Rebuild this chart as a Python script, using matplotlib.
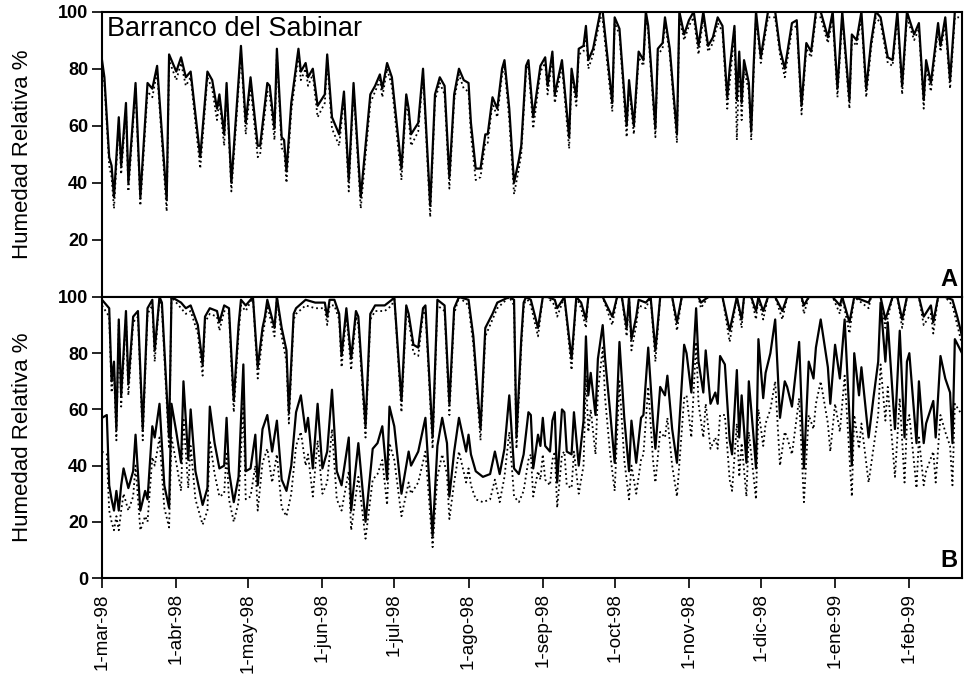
import matplotlib
matplotlib.use("Agg")
import matplotlib.pyplot as plt
import numpy as np

plt.rcParams['font.family'] = ['Liberation Sans', 'DejaVu Sans']

# dias contados desde el 1-mar-98
meses = [0, 31, 61, 92, 122, 153, 184, 214, 245, 275, 306, 337]
etiquetas = ["1-mar-98", "1-abr-98", "1-may-98", "1-jun-98", "1-jul-98", "1-ago-98",
             "1-sep-98", "1-oct-98", "1-nov-98", "1-dic-98", "1-ene-99", "1-feb-99"]

# --- A: Barranco del Sabinar ---
dias_a = [0, 1, 3, 4, 5, 7, 8, 10, 11, 14, 16, 19, 21, 23, 27, 28, 31, 33, 35, 37, 41, 44, 46, 48, 49,
          51, 52, 54, 56, 58, 60, 62, 65, 66, 69, 70, 72, 73, 75, 76, 77, 79, 82, 83, 85, 86, 88, 90,
          93, 94, 96, 99, 101, 103, 105, 108, 112, 114, 116, 117, 119, 121, 125, 127, 128, 129, 132,
          134, 137, 139, 141, 143, 145, 147, 149, 151, 153, 154, 156, 158, 160, 161, 163, 165, 167,
          168, 170, 172, 174, 175, 177, 178, 180, 183, 185, 186, 188, 189, 192, 195, 196, 198, 199,
          201, 202, 203, 205, 208, 209, 213, 214, 216, 219, 220, 222, 224, 226, 227, 228, 231, 232,
          234, 235, 237, 240, 241, 243, 245, 247, 249, 251, 253, 255, 257, 259, 261, 262, 264, 265,
          266, 267, 268, 270, 271, 272, 273, 275, 278, 281, 283, 285, 288, 290, 292, 294, 296, 298,
          300, 303, 305, 307, 309, 312, 313, 315, 317, 319, 321, 323, 325, 328, 330, 332, 334, 336,
          339, 341, 343, 344, 346, 349, 350, 352, 354, 356, 358]
hr_a = [83, 77, 49, 46, 35, 63, 46, 68, 40, 75, 35, 75, 73, 81, 34, 85, 79, 84, 77, 79, 49, 79, 76, 66, 71,
        57, 75, 40, 64, 88, 61, 77, 53, 53, 75, 74, 59, 87, 56, 55, 44, 68, 87, 79, 82, 77, 80, 67,
        71, 85, 63, 57, 72, 41, 75, 35, 71, 74, 78, 73, 82, 77, 45, 71, 66, 57, 61,
        80, 32, 71, 77, 74, 42, 71, 80, 76, 75, 61, 45, 45, 57, 57, 70, 66, 80,
        83, 66, 40, 48, 53, 81, 83, 63, 81, 84, 74, 86, 71, 83, 56, 80, 70, 87,
        88, 95, 83, 87, 100, 100, 68, 98, 94, 60, 76, 60, 86, 83, 100, 95, 59, 87,
        89, 98, 87, 57, 100, 92, 97, 100, 88, 100, 88, 91, 98, 95, 70, 80, 95, 69,
        86, 68, 83, 75, 58, 81, 100, 84, 100, 100, 87, 80, 96, 97, 67, 89, 86, 100,
        100, 91, 100, 73, 100, 69, 92, 90, 100, 73, 89, 100, 98, 84, 83, 100, 74, 100,
        92, 96, 69, 83, 75, 96, 88, 98, 76, 100, 100]
hr_a_pt = [81, 75, 46, 42, 31, 61, 43, 66, 37, 73, 32, 72, 70, 79, 30, 83, 76, 82, 74, 77, 45, 77, 73, 62, 69,
           53, 73, 37, 61, 86, 57, 74, 49, 50, 72, 71, 55, 85, 52, 52, 40, 65, 85, 76, 80, 74, 78, 63,
           68, 83, 59, 53, 70, 37, 73, 31, 68, 72, 76, 70, 80, 74, 41, 69, 63, 53, 58,
           78, 28, 69, 75, 71, 38, 69, 78, 73, 72, 57, 41, 42, 54, 54, 68, 63, 78,
           81, 62, 36, 45, 50, 79, 81, 59, 79, 82, 71, 84, 68, 81, 52, 78, 67, 85,
           86, 93, 80, 85, 98, 97, 65, 96, 92, 56, 74, 57, 84, 81, 98, 93, 56, 85,
           87, 96, 85, 54, 98, 90, 95, 98, 85, 98, 86, 89, 96, 93, 66, 75, 93, 55,
           83, 62, 80, 72, 55, 78, 98, 82, 98, 98, 85, 77, 94, 95, 64, 87, 84, 98,
           98, 89, 98, 70, 98, 66, 90, 88, 98, 70, 87, 98, 96, 82, 81, 98, 71, 98,
           90, 94, 66, 81, 72, 94, 86, 96, 73, 98, 98]

# --- B: maximas y minimas diarias ---
dias_bmax = [0, 3, 4, 5, 6, 7, 8, 10, 11, 13, 15, 17, 19, 21, 22, 24, 25, 28, 29, 33, 35, 37, 40, 42, 43,
             45, 48, 49, 51, 53, 55, 57, 58, 60, 63, 65, 67, 68, 69, 72, 73, 75, 77, 78, 80, 81, 85, 89,
             93, 94, 95, 97, 99, 100, 102, 104, 106, 107, 110, 112, 114, 118, 121, 122, 125, 127, 128,
             130, 132, 134, 135, 138, 140, 143, 145, 147, 149, 153, 155, 158, 160, 163, 165, 170, 172,
             173, 175, 176, 177, 179, 182, 184, 186, 189, 190, 193, 196, 198, 200, 202, 203, 206, 209,
             213, 215, 217, 219, 220, 221, 223, 224, 227, 229, 231, 233, 238, 240, 242, 245, 249, 250,
             253, 259, 262, 265, 267, 268, 271, 273, 274, 276, 278, 281, 284, 286, 292, 293, 295, 298,
             305, 308, 309, 312, 314, 320, 321, 325, 327, 330, 332, 334, 336, 341, 343, 346, 347, 349,
             352, 355, 357, 359]
hr_bmax = [99, 96, 70, 77, 53, 92, 65, 95, 69, 93, 95, 53, 96, 99, 81, 100, 98, 50, 100, 98, 96, 97, 90, 76, 93,
           96, 95, 91, 97, 96, 63, 90, 99, 97, 100, 75, 89, 93, 99, 89, 100, 89, 81, 59, 94, 96, 99, 98,
           98, 93, 99, 99, 94, 79, 96, 78, 95, 93, 54, 94, 97, 97, 99, 100, 63, 97, 94,
           83, 82, 96, 97, 50, 99, 97, 62, 96, 100, 99, 86, 53, 89, 94, 98, 100, 99,
           50, 85, 98, 100, 99, 89, 100, 100, 99, 96, 100, 78, 100, 98, 92, 100, 100, 100,
           93, 100, 100, 89, 100, 85, 93, 99, 98, 100, 81, 100, 100, 91, 100, 100, 100, 98,
           100, 100, 88, 100, 92, 100, 100, 95, 100, 95, 100, 100, 95, 100, 100, 97, 100, 100,
           100, 97, 100, 91, 100, 98, 100, 100, 92, 100, 100, 92, 100, 100, 93, 97, 91, 100,
           100, 99, 93, 86]
hr_bmax_pt = [97, 93, 66, 74, 49, 90, 61, 93, 65, 91, 93, 49, 94, 97, 77, 100, 96, 46, 100, 96, 94, 95, 87, 72, 91,
              94, 93, 88, 95, 94, 59, 87, 97, 95, 100, 71, 86, 91, 97, 86, 100, 86, 77, 55, 92, 94, 97, 96,
              96, 90, 97, 97, 92, 75, 94, 74, 93, 90, 50, 92, 95, 95, 97, 100, 59, 95, 92,
              80, 79, 94, 95, 46, 97, 95, 58, 94, 100, 97, 83, 49, 86, 92, 96, 100, 97,
              46, 82, 96, 100, 97, 86, 100, 100, 97, 93, 100, 74, 100, 96, 89, 100, 100, 100,
              90, 100, 100, 86, 100, 81, 90, 97, 96, 100, 77, 100, 100, 88, 100, 100, 100, 96,
              100, 100, 84, 100, 89, 100, 100, 92, 100, 92, 100, 100, 92, 100, 100, 94, 100, 100,
              100, 94, 100, 87, 100, 96, 100, 100, 89, 100, 100, 89, 100, 100, 90, 94, 87, 100,
              100, 97, 90, 83]

dias_bmin = [0, 2, 3, 4, 5, 6, 7, 8, 9, 11, 13, 14, 16, 18, 19, 21, 22, 24, 26, 28, 29, 31, 33, 34, 36,
             37, 39, 42, 44, 45, 47, 49, 51, 52, 53, 55, 57, 59, 60, 62, 64, 65, 67, 69, 71, 73, 75, 77,
             79, 81, 83, 85, 86, 88, 90, 92, 94, 96, 98, 100, 103, 104, 107, 110, 113, 115, 117, 119,
             120, 122, 125, 128, 129, 132, 135, 138, 140, 142, 144, 145, 147, 149, 152, 153, 154, 156,
             159, 162, 164, 166, 168, 170,
             172, 174, 176, 178, 179, 180, 182, 183, 184, 185, 187, 188, 189, 190, 192, 193, 194, 196,
             197, 199, 201, 202, 203, 204, 206, 207, 209, 210, 212, 214, 216, 218, 220, 221, 223, 225,
             226, 228, 230, 231, 233, 235, 236, 238, 240, 243, 244, 246, 248, 249, 251, 252, 254, 256,
             257, 258, 260, 262, 263, 265, 266, 267, 269, 270, 272, 273, 274, 276, 277, 279, 281, 283,
             285, 286, 288, 291, 293, 295, 297, 298, 300, 303, 304, 306, 308, 310, 313, 314, 316, 317,
             320, 322, 324, 325, 327, 328, 331, 333, 335, 336, 337, 340, 341, 343, 344, 347, 348, 350,
             352, 354, 355, 356, 359]
hr_bmin = [57, 58, 33, 28, 24, 31, 24, 33, 39, 32, 38, 51, 24, 31, 28, 54, 50, 62, 33, 25, 62, 52, 41, 70, 42,
           60, 38, 26, 32, 61, 48, 39, 40, 57, 38, 27, 36, 76, 38, 39, 51, 33, 53, 58, 45, 56, 35, 31,
           40, 59, 65, 52, 57, 39, 62, 39, 45, 67, 38, 33, 50, 24, 48, 20, 46, 48, 54, 35,
           61, 54, 30, 45, 40, 45, 57, 15, 47, 57, 48, 29, 45, 57, 45, 51, 44, 38,
           36, 37, 45, 37, 46, 65,
           39, 37, 44, 59, 58, 39, 51, 47, 57, 47, 45, 56, 59, 34, 60, 59, 45, 44,
           59, 40, 56, 86, 65, 73, 58, 78, 90, 78, 60, 41, 84, 57, 38, 56, 41, 57,
           58, 82, 56, 46, 68, 65, 72, 53, 41, 83, 80, 66, 96, 77, 66, 81, 62, 66,
           62, 79, 76, 49, 44, 74, 50, 65, 41, 70, 50, 39, 85, 64, 73, 80, 92, 57,
           70, 68, 61, 84, 39, 77, 71, 82, 92, 75, 62, 83, 71, 92, 40, 80, 65, 75,
           50, 64, 77, 98, 77, 91, 53, 88, 50, 77, 80, 48, 70, 48, 55, 63, 50, 79,
           71, 66, 48, 85, 80]
hr_bmin_pt = [45, 44, 24, 20, 17, 22, 17, 24, 30, 24, 29, 40, 17, 22, 20, 43, 40, 50, 25, 18, 50, 41, 31, 57, 32,
              47, 28, 19, 24, 49, 37, 29, 30, 45, 28, 20, 27, 62, 28, 29, 40, 24, 41, 46, 34, 44, 25, 22,
              30, 47, 52, 40, 44, 29, 49, 30, 34, 53, 28, 24, 38, 17, 36, 14, 35, 37, 42, 26,
              48, 42, 22, 34, 30, 34, 45, 11, 36, 44, 37, 21, 34, 45, 34, 39, 33, 28,
              27, 28, 35, 27, 36, 52,
              29, 27, 31, 42, 44, 29, 38, 35, 44, 35, 33, 42, 45, 25, 44, 45, 33, 32,
              45, 30, 40, 72, 52, 60, 44, 66, 82, 64, 45, 31, 70, 42, 28, 40, 30, 42,
              44, 68, 42, 34, 52, 50, 57, 40, 29, 64, 65, 50, 84, 62, 50, 62, 46, 50,
              46, 58, 58, 35, 31, 55, 36, 48, 29, 52, 36, 28, 60, 47, 55, 60, 70, 40,
              52, 50, 44, 64, 27, 58, 53, 62, 70, 55, 45, 62, 52, 72, 29, 58, 46, 55,
              34, 46, 58, 76, 56, 68, 36, 64, 34, 55, 58, 32, 50, 33, 38, 45, 34, 58,
              52, 47, 33, 62, 58]

fig = plt.figure(figsize=(9.66, 6.81), dpi=100)
ax_a = fig.add_axes([0.1056, 0.5639, 0.8903, 0.4190])
ax_b = fig.add_axes([0.1056, 0.1512, 0.8903, 0.4127])

ax_a.plot(dias_a, hr_a_pt, color='black', ls=':', lw=1.3)
ax_a.plot(dias_a, hr_a, color='black', lw=1.6)
ax_b.plot(dias_bmax, hr_bmax_pt, color='black', ls=':', lw=1.3)
ax_b.plot(dias_bmin, hr_bmin_pt, color='black', ls=':', lw=1.3)
ax_b.plot(dias_bmax, hr_bmax, color='black', lw=1.6)
ax_b.plot(dias_bmin, hr_bmin, color='black', lw=1.6)

for ax in (ax_a, ax_b):
    ax.set_xlim(0, 359)
    ax.set_ylim(0, 100)
    for s in ax.spines.values():
        s.set_linewidth(1.5)
    ax.set_ylabel("Humedad Relativa %", fontsize=16, labelpad=18)
    ax.tick_params(axis='y', direction='out', length=7, width=1.2, labelsize=13, pad=3)

ax_a.set_yticks([20, 40, 60, 80, 100])
ax_a.set_yticklabels(["20", "40", "60", "80", "100"], fontweight='bold')
ax_a.set_xticks([])
ax_b.set_yticks([0, 20, 40, 60, 80, 100])
ax_b.set_yticklabels(["0", "20", "40", "60", "80", "100"], fontweight='bold')
ax_b.set_xticks(meses)
ax_b.set_xticklabels(etiquetas, rotation=90, fontsize=13.5)
ax_b.tick_params(axis='x', direction='out', length=7, width=1.2, pad=4)

ax_a.text(0.006, 0.985, "Barranco del Sabinar", transform=ax_a.transAxes,
          fontsize=19.5, va='top', ha='left')
ax_a.text(0.995, 0.02, "A", transform=ax_a.transAxes, fontsize=17,
          fontweight='bold', ha='right', va='bottom')
ax_b.text(0.995, 0.02, "B", transform=ax_b.transAxes, fontsize=17,
          fontweight='bold', ha='right', va='bottom')

fig.savefig("out.png", dpi=100)
